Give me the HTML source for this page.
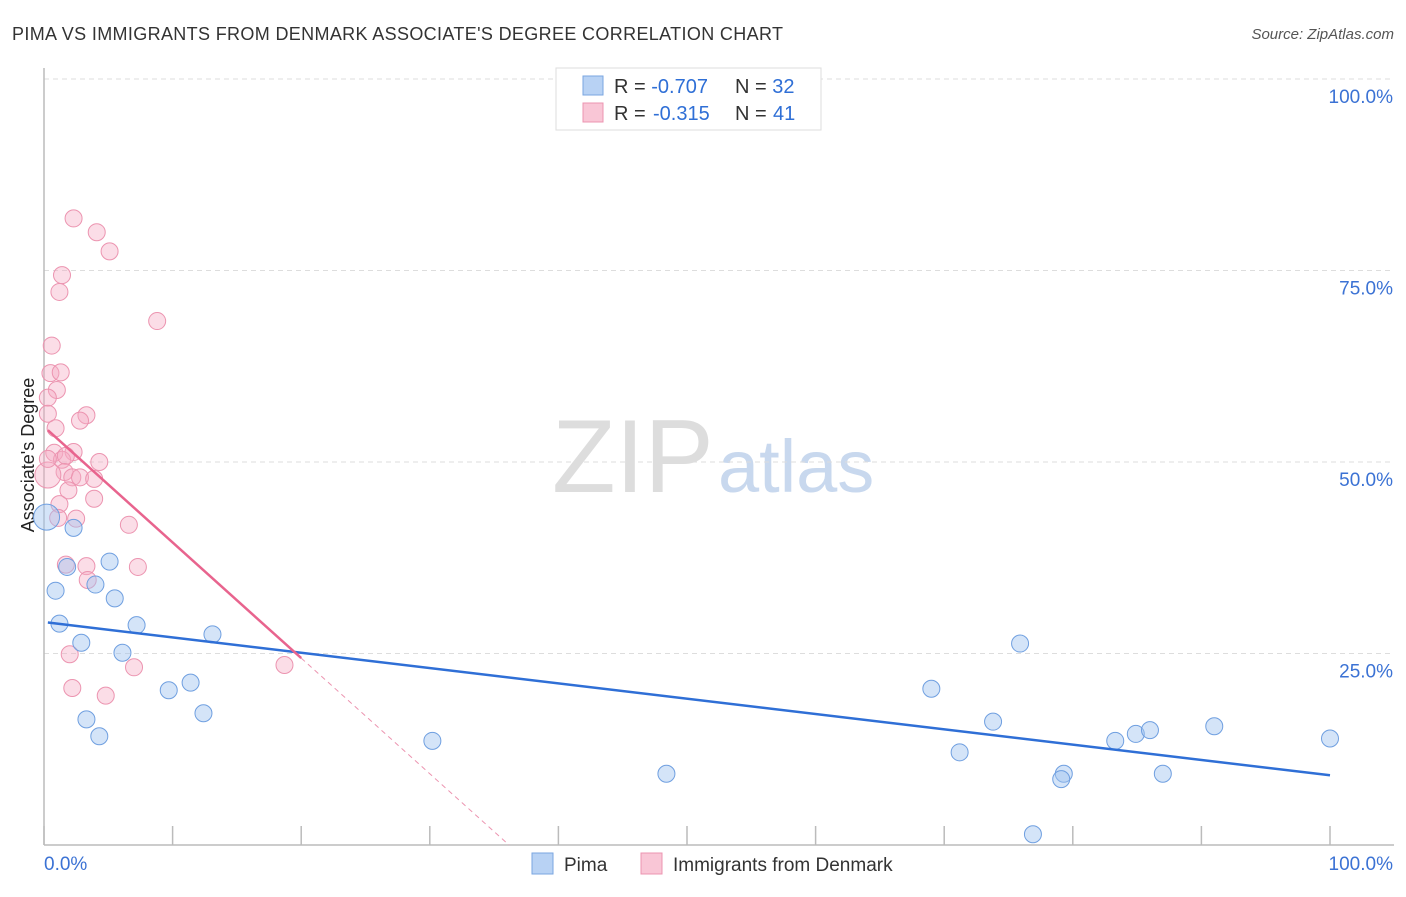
<!DOCTYPE html>
<html><head><meta charset="utf-8"><style>
body{margin:0;background:#fff;font-family:"Liberation Sans",sans-serif}
svg text{font-family:"Liberation Sans",sans-serif}
</style></head><body>
<svg id="c" width="1406" height="892" xmlns="http://www.w3.org/2000/svg">
<text x="12" y="40" font-size="18" fill="#333" textLength="771">PIMA VS IMMIGRANTS FROM DENMARK ASSOCIATE'S DEGREE CORRELATION CHART</text>
<text x="1394" y="39" font-size="15" fill="#555" font-style="italic" text-anchor="end">Source: ZipAtlas.com</text>
<text x="34" y="455" font-size="18" fill="#222" text-anchor="middle" transform="rotate(-90 34 455)">Associate's Degree</text>
<text x="552" y="492" font-size="104" fill="#ddd" font-family="Liberation Serif">ZIP</text>
<text x="718" y="492" font-size="74" fill="#c8d8ee">atlas</text>
<g id="grid"></g><g id="marks"></g>
<g>
<rect x="556" y="68" width="265" height="62" fill="#fff" stroke="#ddd"/>
<rect x="583" y="76" width="20" height="19" fill="#b8d2f4" stroke="#7aa6e0"/>
<rect x="583" y="103" width="20" height="19" fill="#f9c6d6" stroke="#ec94b0"/>
<text x="614" y="93" font-size="20" fill="#333">R = <tspan fill="#2f6fd6">-0.707</tspan><tspan x="735">N = </tspan><tspan fill="#2f6fd6">32</tspan></text>
<text x="614" y="120" font-size="20" fill="#333">R = <tspan fill="#2f6fd6" x="653">-0.315</tspan><tspan x="735">N = </tspan><tspan fill="#2f6fd6" x="773">41</tspan></text>
</g>
<g>
<rect x="532" y="853" width="21" height="21" fill="#b8d2f4" stroke="#7aa6e0"/>
<text x="564" y="871" font-size="19" fill="#333">Pima</text>
<rect x="641" y="853" width="21" height="21" fill="#f9c6d6" stroke="#ec94b0"/>
<text x="673" y="871" font-size="19" fill="#333">Immigrants from Denmark</text>
</g>
</svg>
<script>
const yTicks=[25,50,75,100];
const yTickLabels=["25.0%","50.0%","75.0%","100.0%"];
const pimaX=[0.2,2.3,0.9,1.2,1.8,4.0,5.1,2.9,5.5,6.1,7.2,3.3,4.3,9.7,11.4,12.4,13.1,30.2,48.4,69.0,71.2,73.8,75.9,76.9,79.3,79.1,83.3,84.9,86.0,87.0,91.0,100.0];
const pimaY=[42.8,41.4,33.2,28.9,36.3,34.0,37.0,26.4,32.2,25.1,28.7,16.4,14.2,20.2,21.2,17.2,27.5,13.6,9.3,20.4,12.1,16.1,26.3,1.4,9.3,8.6,13.6,14.5,15.0,9.3,15.5,13.9];
const denX=[2.3,4.1,5.1,1.4,1.2,8.8,0.6,0.5,1.0,0.3,3.3,2.8,0.3,0.9,0.8,2.3,1.4,1.7,4.3,1.6,2.2,2.8,3.9,0.3,1.9,3.9,1.2,2.5,6.6,1.1,1.7,3.3,7.3,3.4,2.0,7.0,2.2,4.8,18.7,1.3,0.3];
const denY=[81.8,80.0,77.5,74.4,72.2,68.4,65.2,61.6,59.4,58.4,56.1,55.4,56.3,54.4,51.2,51.3,50.3,50.8,50.0,48.7,48.0,48.0,47.8,48.3,46.3,45.2,44.5,42.6,41.8,42.7,36.6,36.4,36.3,34.6,24.9,23.2,20.5,19.5,23.5,61.7,50.4];
const pimaTrend=[29.1,9.1];
const denTrend=[54.6,-1.51];
const L=44,R=1330,T=79,B=845;
const sx=v=>L+(R-L)*v/100, sy=v=>B-(B-T)*v/100;
const NS="http://www.w3.org/2000/svg";
function mk(tag,a,p){const e=document.createElementNS(NS,tag);for(const k in a)e.setAttribute(k,a[k]);p.appendChild(e);return e;}
const g=document.getElementById('grid'),m=document.getElementById('marks');
yTicks.forEach((t,i)=>{
 const l=mk('line',{x1:L,x2:1394,y1:sy(t),y2:sy(t),stroke:'#ddd','stroke-dasharray':'5,4'},g);
 
 
 const tx=mk('text',{x:1393,y:sy(t)+24,'font-size':19,fill:'#3b72d4','text-anchor':'end'},g);tx.textContent=yTickLabels[i];
 
 
});
const ax=mk('line',{x1:L,x2:L,y1:68,y2:B,stroke:'#bbb','stroke-width':1.5},g);


const bx=mk('line',{x1:L,x2:1394,y1:B,y2:B,stroke:'#bbb','stroke-width':1.5},g);


for(let i=0;i<=10;i++){const t=mk('line',{x1:sx(i*10),x2:sx(i*10),y1:826,y2:B,stroke:'#bbb','stroke-width':1.5},g);
 
 }
const x0=mk('text',{x:44,y:870,'font-size':19,fill:'#3b72d4'},g);x0.textContent='0.0%';


const x1=mk('text',{x:1393,y:870,'font-size':19,fill:'#3b72d4','text-anchor':'end'},g);x1.textContent='100.0%';


denX.forEach((x,i)=>{const c=mk('circle',{cx:sx(x),cy:sy(denY[i]),r:i===23?13:8.5,fill:'rgba(246,170,195,0.4)',stroke:'#ec94b0','stroke-width':1},m);
 
 });
pimaX.forEach((x,i)=>{const c=mk('circle',{cx:sx(x),cy:sy(pimaY[i]),r:i===0?13:8.5,fill:'rgba(160,195,240,0.45)',stroke:'#6f9fe0','stroke-width':1},m);
 
 });
const pl=mk('line',{x1:sx(0.3),y1:sy(pimaTrend[0]+(pimaTrend[1]-pimaTrend[0])*0.003),x2:sx(100),y2:sy(pimaTrend[1]),stroke:'#2f6fd6','stroke-width':2.5},m);


const xe=-denTrend[0]/denTrend[1];
const dd=mk('line',{x1:sx(20),y1:sy(denTrend[0]+denTrend[1]*20),x2:sx(xe),y2:sy(0),stroke:'#ec94b0','stroke-width':1,'stroke-dasharray':'5,4'},m);


const dl=mk('line',{x1:sx(0.3),y1:sy(denTrend[0]+denTrend[1]*0.3),x2:sx(20),y2:sy(denTrend[0]+denTrend[1]*20),stroke:'#e8648e','stroke-width':2.5},m);


</script>
</body></html>
